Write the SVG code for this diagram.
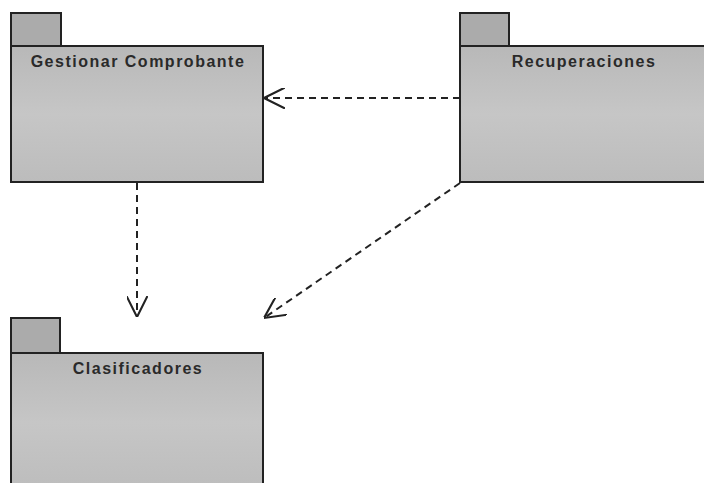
<svg xmlns="http://www.w3.org/2000/svg" width="704" height="483" viewBox="0 0 704 483">
<defs>
<linearGradient id="g" x1="0" y1="0" x2="0" y2="1">
<stop offset="0" stop-color="#b8b8b8"/>
<stop offset="0.5" stop-color="#c6c6c6"/>
<stop offset="1" stop-color="#bcbcbc"/>
</linearGradient>
<marker id="open" viewBox="0 0 20 20" refX="20" refY="10" markerWidth="21" markerHeight="21" markerUnits="userSpaceOnUse" orient="auto">
<path d="M0,0 L20,10 L0,20" fill="none" stroke="#222" stroke-width="2"/>
</marker>
</defs>
<style>
.tab{fill:#ababab;stroke:#222;stroke-width:2}
.body{fill:url(#g);stroke:#222;stroke-width:2}
.lbl{font-family:"Liberation Sans",Arial,sans-serif;font-size:16px;font-weight:bold;letter-spacing:1.5px;fill:#2a2a2a;text-anchor:middle}
.dep{fill:none;stroke:#222;stroke-width:2;stroke-dasharray:7,5;marker-end:url(#open)}
</style>
<rect width="704" height="483" fill="#fff"/>
<g id="gestionar">
<rect class="tab" x="11" y="13" width="50" height="33"/>
<rect class="body" x="11" y="46" width="252" height="136"/>
<text class="lbl" x="138" y="67">Gestionar Comprobante</text>
</g>
<g id="recuperaciones">
<rect class="tab" x="460" y="13" width="49" height="33"/>
<rect class="body" x="460" y="46" width="250" height="136"/>
<text class="lbl" x="584" y="67">Recuperaciones</text>
</g>
<g id="clasificadores">
<rect class="tab" x="11" y="318" width="49" height="35"/>
<rect class="body" x="11" y="353" width="252" height="140"/>
<text class="lbl" x="138" y="374">Clasificadores</text>
</g>
<g id="connectors">
<path class="dep" d="M460,98 L264,98"/>
<path class="dep" d="M137,183 L137,317"/>
<path class="dep" d="M460,183 L264,318"/>
</g>
</svg>
